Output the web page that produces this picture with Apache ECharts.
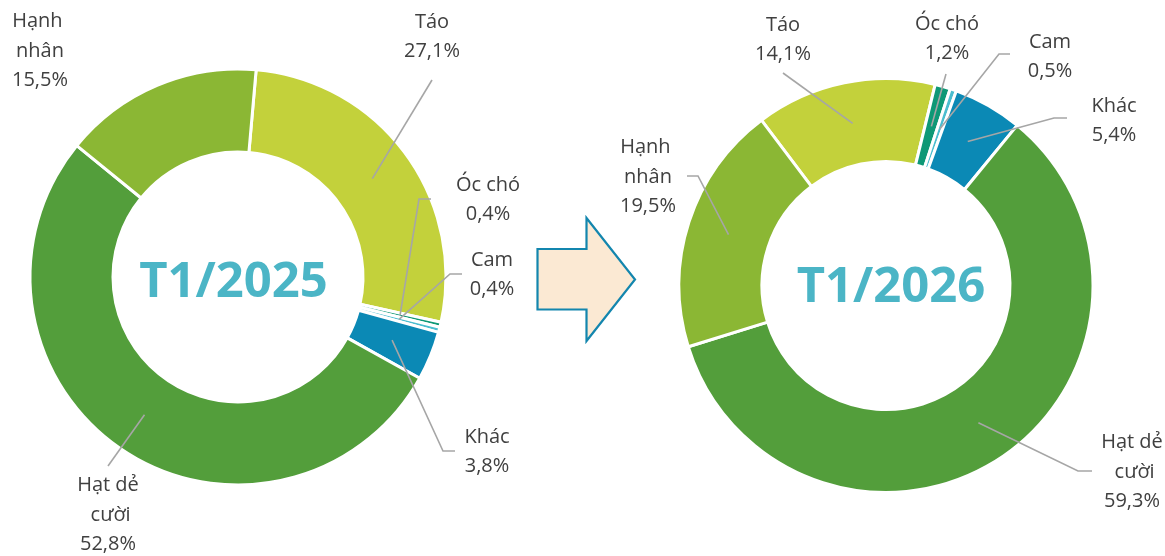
<!DOCTYPE html>
<html>
<head>
<meta charset="utf-8">
<script src="https://cdn.jsdelivr.net/npm/echarts@6/dist/echarts.min.js"></script>
<style>
  html, body { margin: 0; padding: 0; background: #ffffff; }
  #chart { width: 1165px; height: 556px; }
</style>
</head>
<body>
<div id="chart"></div>
<script>
// Product mix, share of value (%)
const categories = ['Táo', 'Óc chó', 'Cam', 'Khác', 'Hạt dẻ cười', 'Hạnh nhân'];
const share2025 = [27.1, 0.4, 0.4, 3.8, 52.8, 15.5];
const share2026 = [14.1, 1.2, 0.5, 5.4, 59.3, 19.5];
const periodLabels = ['T1/2025', 'T1/2026'];

const sliceColors = ['#C3D13B', '#0E9876', '#4BBDCF', '#0B89B5', '#539E3B', '#8BB734'];
const labelColor = '#404040';
const leaderColor = '#A6A6A6';
const titleColor = '#4BB5C6';

// Donut geometry and label placement in pixels.
// "line" lists the bend points of each leader line, starting next to the label.
const donuts = [
  {
    values: share2025, center: [238, 277], radius: [125, 208], startAngle: 85,
    title: [233.5, 283],
    labels: [
      { at: [432, 37],  line: [[432, 80]] },
      { at: [488, 200], line: [[431, 199], [419, 199]] },
      { at: [492, 275], line: [[462, 274], [450, 274]] },
      { at: [487, 452], line: [[455, 451], [443, 451]] },
      { at: [108, 515], line: [[108, 466]] },
      { at: [40, 51],   line: null }
    ]
  },
  {
    values: share2026, center: [886, 285.5], radius: [124, 207], startAngle: 127,
    title: [891, 288],
    labels: [
      { at: [783, 40],   line: [[783, 73]] },
      { at: [947, 39],   line: [[946, 74]] },
      { at: [1050, 57],  line: [[1010, 54], [999, 54]] },
      { at: [1114, 121], line: [[1067, 118], [1054, 118]] },
      { at: [1132, 472], line: [[1092, 471], [1078, 471]] },
      { at: [648, 177],  line: [[687, 176], [698, 176]] }
    ]
  }
];

const chart = echarts.init(document.getElementById('chart'), null, { renderer: 'canvas' });

function fmtPercent(v) {
  return v.toFixed(1).replace('.', ',') + '%';
}

// Mid angle of a slice (radians, screen coordinates) taken from the pie layout
function midAngle(seriesIndex, d, di) {
  try {
    const lay = chart.getModel().getSeriesByIndex(seriesIndex).getData().getItemLayout(di);
    if (lay && isFinite(lay.startAngle) && isFinite(lay.endAngle)) {
      return (lay.startAngle + lay.endAngle) / 2;
    }
  } catch (e) { /* fall through */ }
  const total = d.values.reduce((a, b) => a + b, 0);
  let cum = 0;
  for (let i = 0; i < di; i++) cum += d.values[i];
  const deg = -d.startAngle + 360 * (cum + d.values[di] / 2) / total;
  return deg * Math.PI / 180;
}

function makeLabelLayout(d) {
  return function (p) {
    const spec = d.labels[p.dataIndex];
    const out = {
      x: spec.at[0], y: spec.at[1],
      align: 'center', verticalAlign: 'middle'
    };
    if (spec.line) {
      const a = midAngle(p.seriesIndex, d, p.dataIndex);
      const rm = (d.radius[0] + d.radius[1]) / 2;
      const start = [d.center[0] + rm * Math.cos(a), d.center[1] + rm * Math.sin(a)];
      out.labelLinePoints = [start].concat(spec.line.slice().reverse());
    }
    return out;
  };
}

// Visible rings
const ringSeries = donuts.map((d) => ({
  type: 'pie',
  z: 2,
  center: d.center,
  radius: d.radius,
  startAngle: d.startAngle,
  clockwise: true,
  silent: true,
  animation: false,
  itemStyle: { borderColor: '#ffffff', borderWidth: 3 },
  emphasis: { disabled: true },
  label: { show: false },
  labelLine: { show: false },
  data: categories.map((name, i) => ({
    name: name,
    value: d.values[i],
    itemStyle: { color: sliceColors[i] }
  }))
}));

// Same slices, transparent, carrying the labels so leader lines sit above the rings
const labelSeries = donuts.map((d) => ({
  type: 'pie',
  z: 5,
  center: d.center,
  radius: d.radius,
  startAngle: d.startAngle,
  clockwise: true,
  avoidLabelOverlap: false,
  silent: true,
  animation: false,
  itemStyle: { color: 'rgba(0,0,0,0)', borderWidth: 0 },
  emphasis: { disabled: true },
  label: {
    show: true,
    position: 'outside',
    formatter: (p) => p.name + '\n' + fmtPercent(p.value),
    fontFamily: 'Open Sans',
    fontSize: 20,
    lineHeight: 29.5,
    color: labelColor,
    width: 80,
    overflow: 'break',
    align: 'center'
  },
  labelLine: {
    show: true,
    smooth: false,
    lineStyle: { color: leaderColor, width: 1.6 }
  },
  labelLayout: makeLabelLayout(d),
  data: categories.map((name, i) => ({
    name: name,
    value: d.values[i],
    labelLine: { show: d.labels[i].line != null }
  }))
}));

const graphics = donuts.map((d, si) => ({
  type: 'text',
  x: d.title[0],
  y: d.title[1],
  silent: true,
  style: {
    text: periodLabels[si],
    fontFamily: 'Open Sans',
    fontWeight: 'bold',
    fontSize: 49,
    fill: titleColor,
    align: 'center',
    verticalAlign: 'middle'
  }
}));

// Block arrow between the two periods
graphics.push({
  type: 'polygon',
  silent: true,
  shape: {
    points: [
      [537.5, 249], [586.5, 249], [586.5, 218], [635, 279.5],
      [586.5, 341], [586.5, 309.5], [537.5, 309.5]
    ]
  },
  style: { fill: '#FBE9D3', stroke: '#1386AE', lineWidth: 2.2, lineJoin: 'miter' }
});

chart.setOption({
  backgroundColor: '#ffffff',
  animation: false,
  series: ringSeries.concat(labelSeries),
  graphic: graphics
});
</script>
</body>
</html>
